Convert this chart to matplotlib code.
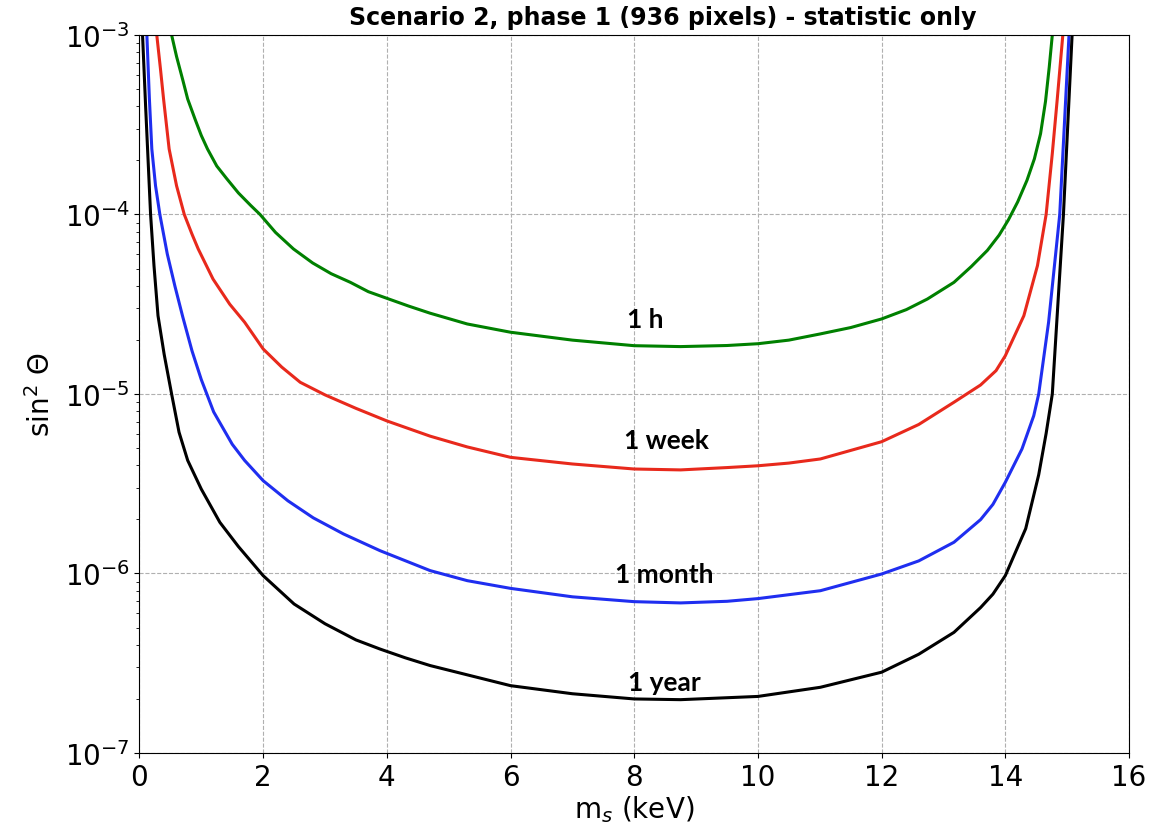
import numpy as np
import matplotlib
matplotlib.use("Agg")
import matplotlib.pyplot as plt

# sensitivity curves, log10(sin^2 theta) vs m_s (keV)
x_1h = [0.52, 0.60, 0.70, 0.78, 0.90, 1.00, 1.10, 1.25, 1.41, 1.60, 1.80, 1.95, 2.20,
        2.49, 2.80, 3.10, 3.41, 3.70, 4.00, 4.35, 4.70, 5.30, 6.00, 7.00, 8.00, 8.75,
        9.50, 10.00, 10.50, 11.00, 11.50, 12.00, 12.40, 12.74, 13.17, 13.45, 13.71,
        13.90, 14.05, 14.20, 14.35, 14.47, 14.57, 14.65, 14.71, 14.76]
lg_1h = [-3.00, -3.12, -3.25, -3.357, -3.47, -3.56, -3.635, -3.73, -3.80, -3.88, -3.95,
         -4.00, -4.10, -4.192, -4.27, -4.33, -4.378, -4.43, -4.467, -4.51, -4.55, -4.61,
         -4.656, -4.70, -4.731, -4.736, -4.73, -4.72, -4.70, -4.666, -4.63, -4.582, -4.53,
         -4.471, -4.378, -4.29, -4.20, -4.115, -4.03, -3.93, -3.81, -3.69, -3.55, -3.37,
         -3.18, -3.00]

x_week = [0.28, 0.34, 0.39, 0.48, 0.60, 0.725, 0.85, 0.95, 1.19, 1.46, 1.70, 2.00, 2.30,
          2.60, 3.00, 3.50, 4.00, 4.70, 5.30, 6.00, 7.00, 8.00, 8.75, 9.50, 10.00, 10.50,
          11.01, 12.00, 12.60, 13.17, 13.60, 13.85, 14.00, 14.30, 14.52, 14.66, 14.76,
          14.84, 14.93]
lg_week = [-3.00, -3.19, -3.357, -3.635, -3.84, -4.00, -4.11, -4.192, -4.36, -4.50, -4.60,
           -4.749, -4.85, -4.935, -5.005, -5.08, -5.15, -5.235, -5.295, -5.353, -5.39,
           -5.418, -5.423, -5.41, -5.40, -5.385, -5.362, -5.266, -5.17, -5.046, -4.95,
           -4.87, -4.787, -4.564, -4.285, -4.00, -3.66, -3.357, -3.00]

x_month = [0.12, 0.16, 0.20, 0.26, 0.33, 0.45, 0.574, 0.70, 0.85, 1.00, 1.20, 1.50, 1.70,
           2.00, 2.40, 2.81, 3.30, 3.89, 4.70, 5.30, 6.00, 7.00, 8.00, 8.75, 9.50, 10.00,
           11.01, 12.00, 12.60, 13.17, 13.60, 13.80, 14.00, 14.27, 14.46, 14.54, 14.70,
           14.88, 15.03]
lg_month = [-3.00, -3.35, -3.635, -3.84, -4.00, -4.22, -4.40, -4.57, -4.76, -4.92, -5.10,
            -5.28, -5.37, -5.483, -5.595, -5.69, -5.78, -5.873, -5.984, -6.04, -6.083,
            -6.13, -6.157, -6.164, -6.155, -6.14, -6.096, -6.003, -5.93, -5.826, -5.70,
            -5.615, -5.492, -5.306, -5.121, -5.00, -4.60, -4.00, -3.00]

x_year = [0.05, 0.10, 0.18, 0.235, 0.30, 0.40, 0.52, 0.64, 0.78, 1.00, 1.30, 1.60, 2.00,
          2.50, 3.00, 3.50, 3.89, 4.30, 4.70, 6.00, 7.00, 8.00, 8.75, 10.00, 11.01, 12.00,
          12.60, 13.17, 13.60, 13.80, 14.00, 14.33, 14.54, 14.66, 14.76, 14.94, 15.08]
lg_year = [-3.00, -3.40, -4.00, -4.285, -4.564, -4.78, -5.00, -5.213, -5.37, -5.53, -5.715,
           -5.85, -6.012, -6.17, -6.28, -6.37, -6.421, -6.47, -6.513, -6.625, -6.67, -6.699,
           -6.703, -6.685, -6.634, -6.55, -6.45, -6.328, -6.19, -6.115, -6.012, -5.75,
           -5.45, -5.22, -5.00, -4.00, -3.00]

curves = [
    (x_1h, lg_1h, "green", "1 h", 8.18, -4.582),
    (x_week, lg_week, "#e8291c", "1 week", 8.52, -5.256),
    (x_month, lg_month, "#1f2ef0", "1 month", 8.49, -6.003),
    (x_year, lg_year, "black", "1 year", 8.49, -6.604),
]

fig = plt.figure(figsize=(11.65, 8.29), dpi=100)
ax = fig.add_axes([0.1197, 0.0905, 0.8494, 0.8661])

for xs, lg, col, lab, tx, ty in curves:
    ax.plot(xs, 10 ** np.array(lg), color=col, lw=2.2)
    ax.text(tx, 10 ** ty, lab, color="black", fontsize=19, fontweight="bold",
            family="Lato", ha="center", va="center")

ax.set_yscale("log")
ax.set_xlim(0, 16)
ax.set_ylim(1e-7, 1e-3)
ax.grid(True, which="major", ls="--", color="#b0b0b0", lw=0.8)
ax.tick_params(axis="both", which="major", labelsize=20)

ax.set_xlabel("m$_s$ (keV)", fontsize=20, labelpad=2)
ax.set_ylabel("sin$^2$ Θ", fontsize=20, labelpad=6)
fig.text(663 / 1165, 1 - 18 / 829, "Scenario 2, phase 1 (936 pixels) - statistic only",
         fontsize=17, fontweight="bold", ha="center", va="center")

fig.savefig("out.png", dpi=100)
